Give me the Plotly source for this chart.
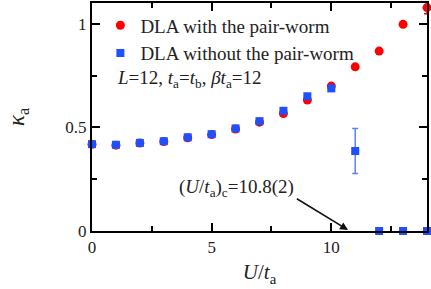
import plotly.graph_objects as go

U = [0, 1, 2, 3, 4, 5, 6, 7, 8, 9, 10, 11, 12, 13, 14]
kappa_with = [0.418, 0.414, 0.424, 0.432, 0.450, 0.465, 0.492, 0.525, 0.567, 0.632, 0.699, 0.792, 0.868, 0.997, 1.078]
err_with = [0, 0, 0, 0, 0, 0, 0, 0, 0, 0, 0, 0, 0, 0, 0.03]
kappa_without = [0.419, 0.416, 0.425, 0.433, 0.452, 0.467, 0.495, 0.530, 0.580, 0.650, 0.688, 0.386, 0.0, 0.0, 0.0]
err_without = [0, 0, 0, 0, 0, 0, 0, 0, 0, 0, 0, 0.108, 0, 0, 0]

SERIF = "Liberation Serif"

fig = go.Figure()
fig.add_trace(go.Scatter(
    x=U, y=kappa_with, mode="markers", name="DLA with the pair-worm",
    marker=dict(symbol="circle", size=9, color="#FF0000"),
    error_y=dict(type="data", array=err_with, visible=True, color="#FF0000", thickness=1.5, width=3),
    cliponaxis=False,
))
fig.add_trace(go.Scatter(
    x=U, y=kappa_without, mode="markers", name="DLA without the pair-worm",
    marker=dict(symbol="square", size=8, color="#1E50FF"),
    error_y=dict(type="data", array=err_without, visible=True, color="#5A82FF", thickness=1.5, width=3),
    cliponaxis=False,
))

fig.add_annotation(
    x=0.068, y=0.665, xref="paper", yref="paper", xanchor="left", yanchor="middle",
    text="<i>L</i>=12, <i>t</i><sub>a</sub>=<i>t</i><sub>b</sub>, <i>βt</i><sub>a</sub>=12",
    showarrow=False, font=dict(family=SERIF, size=19, color="#222222"),
)
fig.add_annotation(
    x=10.7, y=0.005, ax=8.5, ay=0.16, xref="x", yref="y", axref="x", ayref="y",
    text="", showarrow=True, arrowhead=2, arrowsize=1, arrowwidth=1.6, arrowcolor="#111111",
)
fig.add_annotation(
    x=0.255, y=0.19, xref="paper", yref="paper", xanchor="left", yanchor="middle",
    text="(<i>U</i>/<i>t</i><sub>a</sub>)<sub>c</sub>=10.8(2)",
    showarrow=False, font=dict(family=SERIF, size=19, color="#222222"),
)

axis_common = dict(
    showline=True, linecolor="black", linewidth=2, mirror="allticks",
    ticks="inside", ticklen=8, tickwidth=2, tickcolor="black",
    showgrid=False, zeroline=False,
    tickfont=dict(family=SERIF, size=17, color="#222222"),
)
fig.update_xaxes(
    range=[0, 14], tickvals=[0, 5, 10], ticktext=["0", "5", "10"],
    minor=dict(tickvals=[2.5, 7.5, 12.5], ticks="inside", ticklen=5, tickwidth=2, tickcolor="black"),
    title=dict(text="<i>U</i>/<i>t</i><sub>a</sub>", font=dict(family=SERIF, size=21, color="#222222"), standoff=8),
    **axis_common,
)
fig.update_yaxes(
    range=[0, 1.1], tickvals=[0, 0.5, 1], ticktext=["0", "0.5", "1"],
    minor=dict(tickvals=[0.25, 0.75], ticks="inside", ticklen=5, tickwidth=2, tickcolor="black"),
    title=dict(text="<i>κ</i><sub>a</sub>", font=dict(family=SERIF, size=23, color="#222222"), standoff=34),
    **axis_common,
)

fig.update_layout(
    width=431, height=289,
    margin=dict(l=92, r=4, t=3, b=58, autoexpand=False),
    paper_bgcolor="white", plot_bgcolor="white",
    showlegend=True,
    legend=dict(
        x=0.025, y=0.985, xanchor="left", yanchor="top",
        bgcolor="rgba(0,0,0,0)", borderwidth=0,
        font=dict(family=SERIF, size=19, color="#222222"),
        itemwidth=30, tracegroupgap=2,
    ),
)

fig.write_html("out.html", config={"displayModeBar": False},
               post_script="document.body.style.margin='0';")
